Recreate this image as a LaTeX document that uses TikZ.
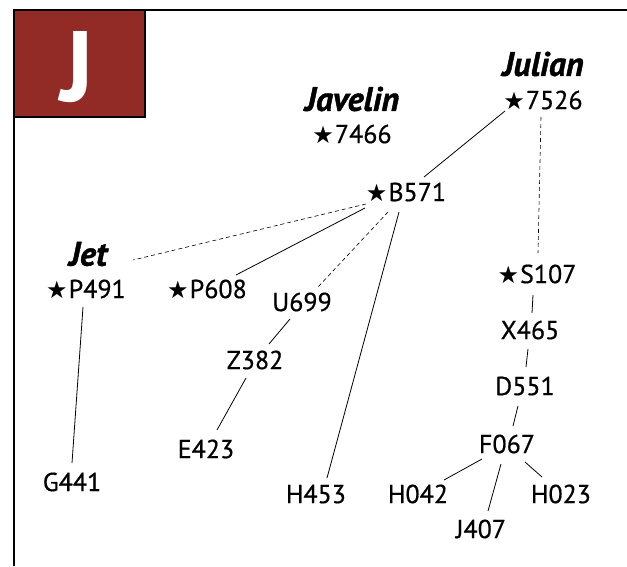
\documentclass[tikz,border=0pt]{standalone}
\usepackage{fontspec}
\setmainfont{PT Sans}
\newfontfamily\lblfont{PT Sans}[FakeBold=0.6]
\newfontfamily\nmfont{PT Sans}[BoldItalicFeatures={FakeBold=1.2}]
\newfontfamily\symfont{DejaVu Sans}
\usetikzlibrary{calc}
\definecolor{jred}{HTML}{922B25}
\newcommand{\st}{{\symfont\fontsize{24}{24}\selectfont ★}\hspace{1pt}}
\begin{document}
\begin{tikzpicture}[x=1pt,y=-1pt,
 lbl/.style={font=\lblfont\fontsize{26}{26}\selectfont, inner sep=0pt},
 nm/.style={font=\nmfont\fontsize{34}{34}\selectfont\bfseries\itshape, inner sep=0pt},
 edge/.style={line width=0.8pt},
 dedge/.style={line width=0.6pt, dash pattern=on 4pt off 3pt}]
\useasboundingbox (0,0) rectangle (627,566);
% frame
\draw[line width=2.6pt] (14,566) -- (14,10) -- (627,10);
\draw[line width=2.6pt, fill=jred] (14,10) rectangle (145,117);
\node[text=white, font=\fontsize{100}{100}\selectfont\bfseries, inner sep=0pt] (bigJ) at (77,67) {J};
% names
\node[nm] (julian) at (543,64) {Julian};
\node[nm] (javelin) at (352,99) {Javelin};
\node[nm] (jet) at (88,254) {Jet};
% nodes
\node[lbl] (n7526) at (543,100) {\st 7526};
\node[lbl] (n7466) at (352,134) {\st 7466};
\node[lbl] (b571) at (406,192) {\st B571};
\node[lbl] (p491) at (86,289) {\st P491};
\node[lbl] (p608) at (207,289) {\st P608};
\node[lbl] (u699) at (302,302) {U699};
\node[lbl] (s107) at (537,274) {\st S107};
\node[lbl] (x465) at (530,330) {X465};
\node[lbl] (z382) at (255,360) {Z382};
\node[lbl] (d551) at (525,386) {D551};
\node[lbl] (e423) at (206,449) {E423};
\node[lbl] (f067) at (507,444) {F067};
\node[lbl] (g441) at (72,482) {G441};
\node[lbl] (h453) at (316,494) {H453};
\node[lbl] (h042) at (418,494) {H042};
\node[lbl] (h023) at (561,494) {H023};
\node[lbl] (j407) at (481,529) {J407};
% edges
\draw[edge] ($(n7526)+(-38,11)$) -- ($(b571)+(18,-15)$);
\draw[dedge] ($(n7526)+(-2,17)$) -- ($(s107)+(1,-21)$);
\draw[dedge] ($(b571)+(-40,12)$) -- ($(jet)+(45,6)$);
\draw[edge] ($(b571)+(-41,16)$) -- ($(p608)+(29,-14)$);
\draw[dedge] ($(b571)+(-18,20)$) -- ($(u699)+(16,-15)$);
\draw[edge] ($(b571)+(-7,20)$) -- ($(h453)+(11,-16)$);
\draw[edge] ($(p491)+(-3,18)$) -- ($(g441)+(0,-19)$);
\draw[edge] ($(u699)+(-12,17)$) -- ($(z382)+(14,-16)$);
\draw[edge] ($(z382)+(-9,18)$) -- ($(e423)+(11,-19)$);
\draw[edge] ($(s107)+(-4,21)$) -- ($(x465)+(2,-17)$);
\draw[edge] ($(x465)+(-2,19)$) -- ($(d551)+(1,-19)$);
\draw[edge] ($(d551)+(-7,20)$) -- ($(f067)+(6,-18)$);
\draw[edge] ($(f067)+(-25,15)$) -- ($(h042)+(26,-14)$);
\draw[edge] ($(f067)+(-6,20)$) -- ($(j407)+(7,-18)$);
\draw[edge] ($(f067)+(18,18)$) -- ($(h023)+(-19,-17)$);
\end{tikzpicture}
\end{document}
